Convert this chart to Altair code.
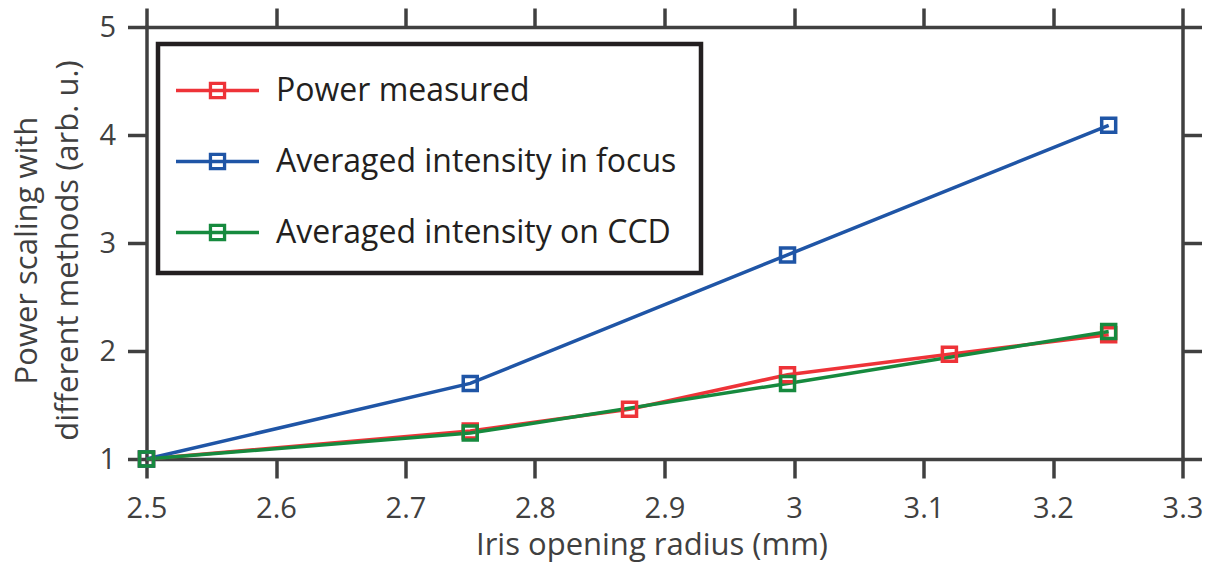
import altair as alt
import pandas as pd

# ---- data ----
series_names = ["Power measured", "Averaged intensity in focus", "Averaged intensity on CCD"]
series_colors = ["#EE3338", "#1F55A6", "#168A3E"]

power_x = [2.5, 2.75, 2.873, 2.995, 3.12, 3.243]
power_y = [1.0, 1.26, 1.46, 1.78, 1.97, 2.15]

focus_x = [2.5, 2.75, 2.995, 3.243]
focus_y = [1.0, 1.70, 2.89, 4.09]

ccd_x = [2.5, 2.75, 2.995, 3.243]
ccd_y = [1.0, 1.24, 1.70, 2.18]

x_ticks = [2.5, 2.6, 2.7, 2.8, 2.9, 3.0, 3.1, 3.2, 3.3]
y_ticks = [1, 2, 3, 4, 5]

rows = []
for name, xs, ys in zip(series_names, [power_x, focus_x, ccd_x], [power_y, focus_y, ccd_y]):
    for i, (a, b) in enumerate(zip(xs, ys)):
        rows.append({"series": name, "x": a, "y": b, "order": i})
df = pd.DataFrame(rows)

FONT = "Open Sans"
AX = "#404040"

xscale = alt.Scale(domain=[2.5, 3.3], nice=False, zero=False)
yscale = alt.Scale(domain=[1, 5], nice=False, zero=False)

axis_common = dict(
    grid=False, domainColor=AX, domainWidth=3.5, domainCap="square",
    tickColor=AX, tickWidth=3.5, tickSize=19, labelFlush=False,
    labelFont=FONT, labelFontSize=29, labelColor=AX,
    titleFont=FONT, titleColor=AX, titleFontWeight="normal",
)

legend_path = "M-2,0H2M-0.34,-0.34H0.34V0.34H-0.34Z"

lines = alt.Chart(df).mark_line(strokeWidth=3.5).encode(
    x=alt.X("x:Q", scale=xscale,
            axis=alt.Axis(values=x_ticks, format="~g", title="Iris opening radius (mm)",
                          labelPadding=16, titleX=505, titleY=95, titleBaseline="alphabetic",
                          titleAnchor="start", titleAlign="center", titleFontSize=31,
                          **axis_common)),
    y=alt.Y("y:Q", scale=yscale,
            axis=alt.Axis(values=y_ticks, title=["Power scaling with", "different methods (arb. u.)"],
                          labelPadding=12, titleX=-119, titleY=223, titleAngle=270,
                          titleAlign="center", titleBaseline="middle", titleLineHeight=41,
                          titleAnchor="start", titleFontSize=31, **axis_common)),
    color=alt.Color("series:N", sort=series_names,
                    scale=alt.Scale(domain=series_names, range=series_colors),
                    legend=alt.Legend(
                        title=None, orient="none", legendX=11.5, legendY=17,
                        symbolType=legend_path, symbolSize=1722, symbolStrokeWidth=3.3,
                        symbolOffset=13, labelOffset=36,
                        strokeColor="#231f20", fillColor="white",
                        labelFont=FONT, labelFontSize=32, labelColor="#231f20", labelLimit=1000,
                    )),
    order="order:Q",
)

points = alt.Chart(df).mark_point(shape="square", filled=False, size=196, strokeWidth=3.5, opacity=1).encode(
    x=alt.X("x:Q", scale=xscale,
            axis=alt.Axis(values=x_ticks, orient="top", labels=False, title=None, **axis_common)),
    y=alt.Y("y:Q", scale=yscale,
            axis=alt.Axis(values=y_ticks, orient="right", labels=False, title=None, **axis_common)),
    stroke=alt.Stroke("series:N", sort=series_names,
                      scale=alt.Scale(domain=series_names, range=series_colors), legend=None),
)

chart = alt.layer(lines, points).resolve_axis(x="independent", y="independent").properties(
    width=1036, height=432,
    background="white",
    autosize=alt.AutoSizeParams(type="none"),
    padding={"left": 138.5, "top": 19, "right": 20.5, "bottom": 103},
).configure_view(stroke=None).configure_legend(
    rowPadding=32, padding=24, strokeWidth=4.5, cornerRadius=0,
)

chart.save("out.html", embed_options={"renderer": "svg", "actions": False})
